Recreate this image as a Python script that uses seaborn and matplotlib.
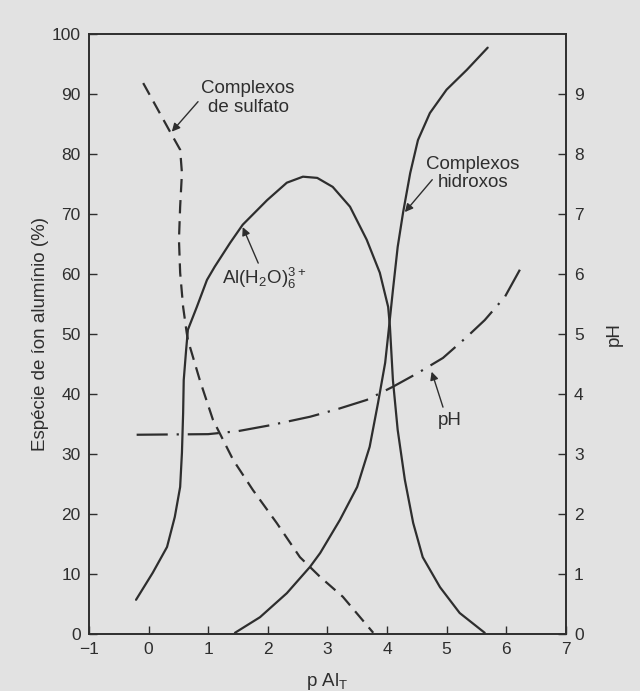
import matplotlib
matplotlib.use("Agg")
import matplotlib.pyplot as plt
import seaborn as sns

# %%
# Al(H2O)6 3+ fraction (solid, rises then falls)
al_x = [-0.21, 0.07, 0.31, 0.44, 0.53, 0.56, 0.58, 0.59, 0.63, 0.66, 0.81, 0.98, 1.11,
        1.37, 1.58, 1.99, 2.32, 2.59, 2.83, 3.09, 3.38, 3.66, 3.88, 4.02, 4.05, 4.1,
        4.18, 4.3, 4.44, 4.6, 4.89, 5.22, 5.64]
al_y = [5.7, 10.2, 14.5, 19.5, 24.5, 30.2, 36.8, 42.3, 47.3, 50.7, 54.5, 59, 61.2,
        65.2, 68.2, 72.3, 75.2, 76.2, 76, 74.5, 71.2, 65.7, 60.2, 54.5, 51.2, 42.3,
        34, 25.7, 18.5, 12.8, 7.8, 3.5, 0.2]

# hydroxo complexes (solid)
hid_x = [1.45, 1.87, 2.32, 2.71, 2.88, 3.21, 3.5, 3.71, 3.85, 3.97, 4.03, 4.1,
         4.18, 4.27, 4.39, 4.52, 4.72, 5.0, 5.34, 5.69]
hid_y = [0.2, 2.8, 6.8, 11.2, 13.5, 19, 24.5, 31.2, 38.5, 45.2, 50.7, 57.3,
         64.5, 70.2, 76.8, 82.3, 86.8, 90.7, 94, 97.7]

# sulfate complexes (dashed)
sul_x = [-0.09, 0.36, 0.53, 0.56, 0.53, 0.51, 0.53, 0.58, 0.64, 0.66, 0.86, 1.08,
         1.42, 1.75, 2.15, 2.54, 2.88, 3.26, 3.77]
sul_y = [91.8, 83.7, 80.7, 76.8, 71.2, 65.7, 60.2, 54.5, 50.2, 49, 42.3, 35.7,
         29, 24, 18.5, 12.8, 9.5, 6.2, 0.2]

# pH (dash-dot, right axis)
ph_x = [-0.2, 1.0, 1.5, 2.05, 2.71, 3.18, 3.66, 4.1, 4.52, 4.94, 5.34, 5.64, 5.98, 6.23]
ph_y = [3.32, 3.33, 3.38, 3.48, 3.62, 3.75, 3.9, 4.12, 4.35, 4.6, 4.95, 5.23, 5.62, 6.07]

# %%
sns.set_style("ticks")
plt.rcParams["font.family"] = ["Liberation Sans", "DejaVu Sans"]
plt.rcParams["mathtext.default"] = "regular"

ink = "#2e2e2e"
paper = "#e2e2e2"

fig = plt.figure(figsize=(6.4, 6.91), dpi=100, facecolor=paper)
ax = fig.add_axes([0.139, 0.0825, 0.745, 0.8685])
ax.set_facecolor(paper)

sns.lineplot(x=al_x, y=al_y, sort=False, estimator=None, color=ink, lw=1.6, ax=ax)
sns.lineplot(x=hid_x, y=hid_y, sort=False, estimator=None, color=ink, lw=1.6, ax=ax)
sns.lineplot(x=sul_x, y=sul_y, sort=False, estimator=None, color=ink, lw=1.6,
             ax=ax, linestyle=(0, (6, 3.5)))

ax.set_xlim(-1, 7)
ax.set_ylim(0, 100)
ax.set_xticks(range(-1, 8))
ax.set_xticklabels(["\u22121"] + [str(i) for i in range(0, 8)])
ax.set_yticks(range(0, 101, 10))
ax.tick_params(direction="in", length=6, width=1, colors=ink, labelsize=12.5, pad=6)
ax.set_xlabel("p Al$_T$", fontsize=13.5, color=ink, labelpad=10)
ax.set_ylabel("Espécie de íon alumínio (%)", fontsize=13.5, color=ink, labelpad=2)
for s in ax.spines.values():
    s.set_color(ink)
    s.set_linewidth(1.2)

ax2 = ax.twinx()
sns.lineplot(x=ph_x, y=ph_y, sort=False, estimator=None, color=ink, lw=1.6,
             ax=ax2, linestyle=(0, (14, 4, 1, 4)))
ax2.set_ylim(0, 10)
ax2.set_yticks(range(0, 10))
ax2.tick_params(direction="in", length=6, width=1, colors=ink, labelsize=12.5, pad=6)
ax2.set_ylabel("pH", fontsize=13.5, color=ink, labelpad=16)
for s in ax2.spines.values():
    s.set_color(ink)
    s.set_linewidth(1.2)

arrow = dict(arrowstyle="-|>", color=ink, lw=1, mutation_scale=12, shrinkA=0, shrinkB=0)
txt = dict(ha="center", va="center", fontsize=13.5, color=ink, linespacing=1.1)
ax.text(1.67, 89.3, "Complexos\nde sulfato", **txt)
ax.annotate("", xy=(0.39, 83.7), xytext=(0.83, 88.7), arrowprops=arrow)
ax.text(5.44, 76.7, "Complexos\nhidroxos", **txt)
ax.annotate("", xy=(4.3, 70.3), xytext=(4.76, 75.7), arrowprops=arrow)
ax.text(1.94, 59.2, "Al(H$_2$O)$_6^{3+}$", **txt)
ax.annotate("", xy=(1.58, 67.8), xytext=(1.84, 61.8), arrowprops=arrow)
ax2.text(5.06, 3.55, "pH", **txt)
ax2.annotate("", xy=(4.75, 4.37), xytext=(4.94, 3.78), arrowprops=arrow)

fig.savefig("out.png", dpi=100, facecolor=paper)
